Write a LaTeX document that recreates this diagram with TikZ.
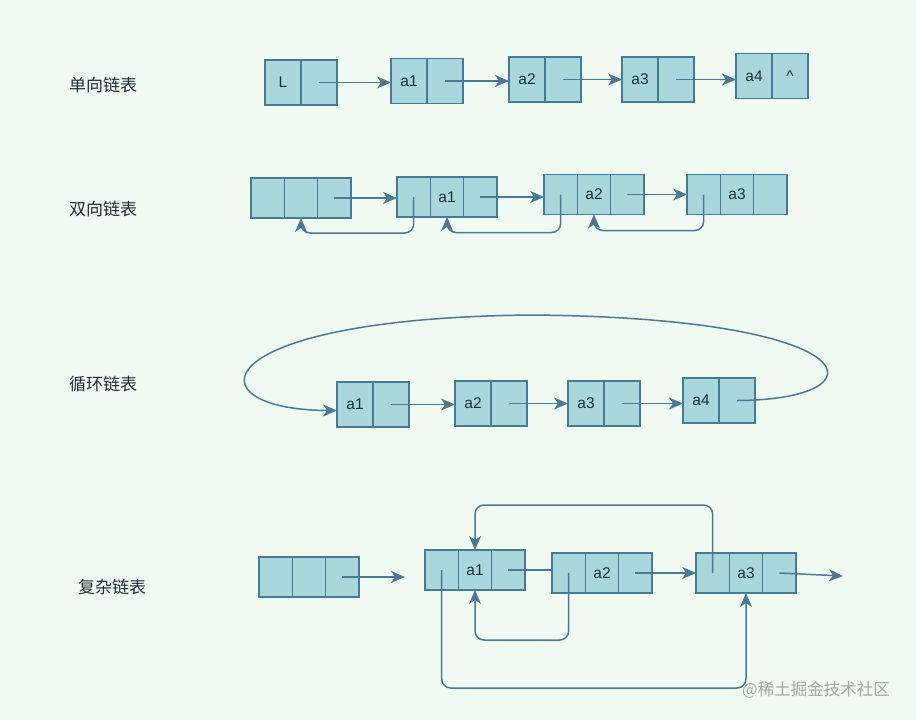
\documentclass[tikz,border=0pt]{standalone}
\usepackage{fontspec}
\setmainfont{Liberation Sans}
\newfontfamily\cjk{Noto Sans CJK SC}
\usetikzlibrary{arrows.meta,positioning}
\definecolor{bg}{RGB}{241,250,240}
\definecolor{cellfill}{RGB}{168,216,220}
\definecolor{edge}{RGB}{72,122,152}
\definecolor{ink}{RGB}{30,45,60}
\definecolor{mark}{RGB}{160,168,162}

\begin{document}
\begin{tikzpicture}[
        x=1pt, y=-1pt,
        cell/.style={rectangle, draw=edge, fill=cellfill, line width=1.4pt, outer sep=0pt, inner sep=0pt, minimum width=36pt, minimum height=45pt, font=\fontsize{15.5}{17}\selectfont, text=ink},
        slim/.style={cell, minimum width=33.3pt, minimum height=40pt},
        link/.style={draw=edge, line width=1.5pt, -{Stealth[length=14pt,width=12pt,inset=4pt]}},
        bare/.style={draw=edge, line width=1.5pt},
        tag/.style={font=\cjk\fontsize{17}{19}\selectfont, text=ink},
    ]
        \fill[bg] (0,0) rectangle (916,720);
        \useasboundingbox (0,0) rectangle (916,720);

        % Row labels
        \node[tag] (t1) at (103,85) {单向链表};
        \node[tag] (t2) at (103,209) {双向链表};
        \node[tag] (t3) at (103,384) {循环链表};
        \node[tag] (t4) at (112,587) {复杂链表};

        % Singly linked list
        \node[cell] (sL) at (283,82.5) {L};
        \node[cell, right=0pt of sL] (sLn) {};
        \node[cell] (s1) at (409,81) {a1};
        \node[cell, right=0pt of s1] (s1n) {};
        \node[cell] (s2) at (527,79.5) {a2};
        \node[cell, right=0pt of s2] (s2n) {};
        \node[cell] (s3) at (640,79.5) {a3};
        \node[cell, right=0pt of s3] (s3n) {};
        \node[cell] (s4) at (754,76) {a4};
        \node[cell, right=0pt of s4] (s4n) {\textasciicircum};

        \draw[link] (sLn.center) -- (sLn.center -| s1.west);
        \draw[link] (s1n.center) -- (s1n.center -| s2.west);
        \draw[link] (s2n.center) -- (s2n.center -| s3.west);
        \draw[link] (s3n.center) -- (s3n.center -| s4.west);

        % Doubly linked list (prev | data | next)
        \node[slim] (d0p) at (267.7,198) {};
        \node[slim, right=0pt of d0p] (d0m) {};
        \node[slim, right=0pt of d0m] (d0n) {};
        \node[slim] (d1p) at (413.7,197) {};
        \node[slim, right=0pt of d1p] (d1m) {a1};
        \node[slim, right=0pt of d1m] (d1n) {};
        \node[slim] (d2p) at (560.7,194.5) {};
        \node[slim, right=0pt of d2p] (d2m) {a2};
        \node[slim, right=0pt of d2m] (d2n) {};
        \node[slim] (d3p) at (703.7,194.5) {};
        \node[slim, right=0pt of d3p] (d3m) {a3};
        \node[slim, right=0pt of d3m] (d3n) {};

        \draw[link] (d0n.center) -- (d0n.center -| d1p.west);
        \draw[link] (d1n.center) -- (d1n.center -| d2p.west);
        \draw[link] (d2n.center) -- (d2n.center -| d3p.west);
        \draw[link, rounded corners=9pt] (d1p.center) -- ++(0,36) -| (d0m.south);
        \draw[link, rounded corners=9pt] (d2p.center) -- ++(0,38) -| (d1m.south);
        \draw[link, rounded corners=9pt] (d3p.center) -- ++(0,36) -| (d2m.south);

        % Circular linked list
        \node[cell] (c1) at (355,404.5) {a1};
        \node[cell, right=0pt of c1] (c1n) {};
        \node[cell] (c2) at (473,403.5) {a2};
        \node[cell, right=0pt of c2] (c2n) {};
        \node[cell] (c3) at (586,403.5) {a3};
        \node[cell, right=0pt of c3] (c3n) {};
        \node[cell] (c4) at (701,400.5) {a4};
        \node[cell, right=0pt of c4] (c4n) {};
        \coordinate (loopTop) at (532,315);

        \draw[link] (c1n.center) -- (c1n.center -| c2.west);
        \draw[link] (c2n.center) -- (c2n.center -| c3.west);
        \draw[link] (c3n.center) -- (c3n.center -| c4.west);
        \draw[link] (c4n.center) .. controls (885,400) and (875,318) .. (loopTop)
            .. controls (200,318) and (190,410) .. ([yshift=-6pt]c1.west);

        % Complex linked list
        \node[slim] (x0p) at (275.7,577) {};
        \node[slim, right=0pt of x0p] (x0m) {};
        \node[slim, right=0pt of x0m] (x0n) {};
        \node[slim] (x1p) at (441.7,570) {};
        \node[slim, right=0pt of x1p] (x1m) {a1};
        \node[slim, right=0pt of x1m] (x1n) {};
        \node[slim] (x2p) at (568.7,573) {};
        \node[slim, right=0pt of x2p] (x2m) {a2};
        \node[slim, right=0pt of x2m] (x2n) {};
        \node[slim] (x3p) at (712.7,573) {};
        \node[slim, right=0pt of x3p] (x3m) {a3};
        \node[slim, right=0pt of x3m] (x3n) {};
        \coordinate (x0end) at (405,577);
        \coordinate (x3end) at (843,576);

        \draw[link] (x0n.center) -- (x0end);
        \draw[bare] (x1n.center) -- (x1n.center -| x2p.west);
        \draw[link] (x2n.center) -- (x2n.center -| x3p.west);
        \draw[link] (x3n.center) -- (x3end);
        \draw[link, rounded corners=9pt] (x3p.center) -- ++(0,-68) -| (x1m.north);
        \draw[link, rounded corners=9pt] (x2p.center) -- ++(0,67) -| (x1m.south);
        \draw[link, rounded corners=9pt] (x1p.center) -- ++(0,118) -| (x3m.south);

        % Watermark
        \node[font=\cjk\fontsize{16.5}{18}\selectfont, text=mark] (wm) at (816,690) {@稀土掘金技术社区};
    \end{tikzpicture}
\end{document}
